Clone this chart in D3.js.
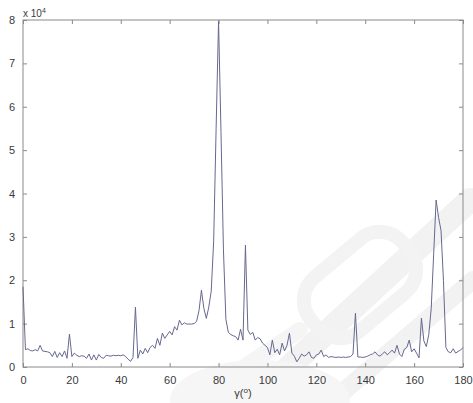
<!DOCTYPE html>
<html>
<head>
<meta charset="utf-8">
<script src="https://cdn.jsdelivr.net/npm/d3@7"></script>
<style>
  html, body { margin: 0; padding: 0; background: #fff; }
  svg { display: block; font-family: "Liberation Sans", Arial, sans-serif; }
</style>
</head>
<body>
<svg id="chart" width="473" height="403"></svg>
<script>
// Angle grid (degrees) and response amplitude in units of 1e4
const angles = d3.range(0, 181);
const amplitude = [
  1.85, 0.40, 0.42, 0.38, 0.37, 0.40, 0.37, 0.50, 0.37, 0.36,
  0.35, 0.33, 0.24, 0.36, 0.22, 0.33, 0.24, 0.37, 0.20, 0.76,
  0.24, 0.32, 0.27, 0.24, 0.26, 0.25, 0.20, 0.30, 0.16, 0.28,
  0.16, 0.29, 0.22, 0.20, 0.27, 0.26, 0.25, 0.27, 0.26, 0.27,
  0.26, 0.28, 0.24, 0.18, 0.13, 0.22, 1.38, 0.20, 0.39, 0.30,
  0.43, 0.33, 0.45, 0.50, 0.43, 0.66, 0.50, 0.78, 0.66, 0.74,
  0.82, 0.74, 0.93, 0.85, 1.08, 0.97, 1.02, 0.99, 0.99, 0.99,
  1.00, 1.05, 1.30, 1.77, 1.35, 1.12, 1.38, 1.75, 2.90, 5.50,
  7.98, 5.40, 2.70, 1.10, 0.80, 0.75, 0.72, 0.70, 0.62, 0.87,
  0.62, 2.81, 0.85, 0.75, 0.80, 0.62, 0.68, 0.65, 0.55, 0.50,
  0.45, 0.28, 0.62, 0.33, 0.41, 0.28, 0.55, 0.37, 0.50, 0.78,
  0.32, 0.25, 0.12, 0.20, 0.30, 0.25, 0.28, 0.35, 0.22, 0.20,
  0.28, 0.30, 0.39, 0.24, 0.28, 0.22, 0.24, 0.23, 0.22, 0.23,
  0.22, 0.23, 0.22, 0.23, 0.24, 0.30, 1.24, 0.23, 0.23, 0.22,
  0.23, 0.25, 0.28, 0.30, 0.35, 0.28, 0.25, 0.30, 0.35, 0.28,
  0.33, 0.39, 0.32, 0.50, 0.30, 0.24, 0.41, 0.45, 0.62, 0.35,
  0.42, 0.32, 0.21, 1.13, 0.60, 0.47, 0.75, 1.35, 2.60, 3.85,
  3.45, 3.15, 2.00, 0.45, 0.35, 0.33, 0.42, 0.32, 0.36, 0.39,
  0.45
];
const xTicks = [0, 20, 40, 60, 80, 100, 120, 140, 160, 180];
const yTicks = [0, 1, 2, 3, 4, 5, 6, 7, 8];

const W = 473, H = 403;
const m = { top: 20, right: 10, bottom: 36, left: 23 };
const svg = d3.select("#chart");

// faint background emblem strokes
const mark = svg.append("g").attr("fill", "none").attr("stroke", "#f2f2f2").attr("stroke-linecap", "round");
mark.append("path").attr("d", "M250,403 L470,200").attr("stroke-width", 24);
mark.append("path").attr("d", "M330,403 L473,280").attr("stroke-width", 18);
mark.append("path").attr("d", "M190,403 L300,330").attr("stroke-width", 16).attr("stroke", "#f5f5f5");
mark.append("rect").attr("x", 300).attr("y", 250).attr("width", 120).attr("height", 70).attr("rx", 30)
  .attr("transform", "rotate(-40 360 285)").attr("stroke-width", 14).attr("stroke", "#f3f3f3");
mark.append("ellipse").attr("cx", 260).attr("cy", 400).attr("rx", 90).attr("ry", 40).attr("fill", "#f6f6f6").attr("stroke", "none");

const x = d3.scaleLinear().domain([0, 180]).range([m.left, W - m.right]);
const y = d3.scaleLinear().domain([0, 8]).range([H - m.bottom, m.top]);

const axisColor = "#8a8a8a";
const textColor = "#3a3a3a";

function styleAxis(g, labels) {
  g.select(".domain").remove();
  g.selectAll(".tick line").attr("stroke", axisColor);
  g.selectAll(".tick text").attr("fill", textColor).attr("font-size", 11);
  if (!labels) g.selectAll(".tick text").remove();
}

// bottom / top / left / right axes with inward ticks
svg.append("g").attr("transform", `translate(0,${H - m.bottom})`)
  .call(d3.axisBottom(x).tickValues(xTicks).tickSize(-4).tickPadding(9).tickFormat(d3.format("d")))
  .call(g => styleAxis(g, true));
svg.append("g").attr("transform", `translate(0,${m.top})`)
  .call(d3.axisTop(x).tickValues(xTicks).tickSize(-4))
  .call(g => styleAxis(g, false));
svg.append("g").attr("transform", `translate(${m.left},0)`)
  .call(d3.axisLeft(y).tickValues(yTicks).tickSize(-4).tickPadding(8).tickFormat(d3.format("d")))
  .call(g => styleAxis(g, true));
svg.append("g").attr("transform", `translate(${W - m.right},0)`)
  .call(d3.axisRight(y).tickValues(yTicks).tickSize(-4))
  .call(g => styleAxis(g, false));

// plot frame
svg.append("rect")
  .attr("x", m.left).attr("y", m.top)
  .attr("width", W - m.left - m.right).attr("height", H - m.top - m.bottom)
  .attr("fill", "none").attr("stroke", axisColor).attr("stroke-width", 1);

// response curve
const line = d3.line().x((d, i) => x(angles[i])).y(d => y(d));
svg.append("path")
  .datum(amplitude)
  .attr("d", line)
  .attr("fill", "none")
  .attr("stroke", "#67688f")
  .attr("stroke-width", 1)
  .attr("stroke-linejoin", "round");

// exponent label
const ex = svg.append("text").attr("x", m.left).attr("y", 16.5).attr("fill", textColor).attr("font-size", 10);
ex.append("tspan").text("x 10");
ex.append("tspan").attr("font-size", 7).attr("dy", -4).text("4");

// x axis title
const xt = svg.append("text").attr("x", x(90)).attr("y", 397).attr("text-anchor", "middle")
  .attr("fill", textColor).attr("font-size", 11);
xt.append("tspan").text("γ(");
xt.append("tspan").attr("font-size", 8).attr("dy", -4).text("o");
xt.append("tspan").attr("dy", 4).text(")");
</script>
</body>
</html>
